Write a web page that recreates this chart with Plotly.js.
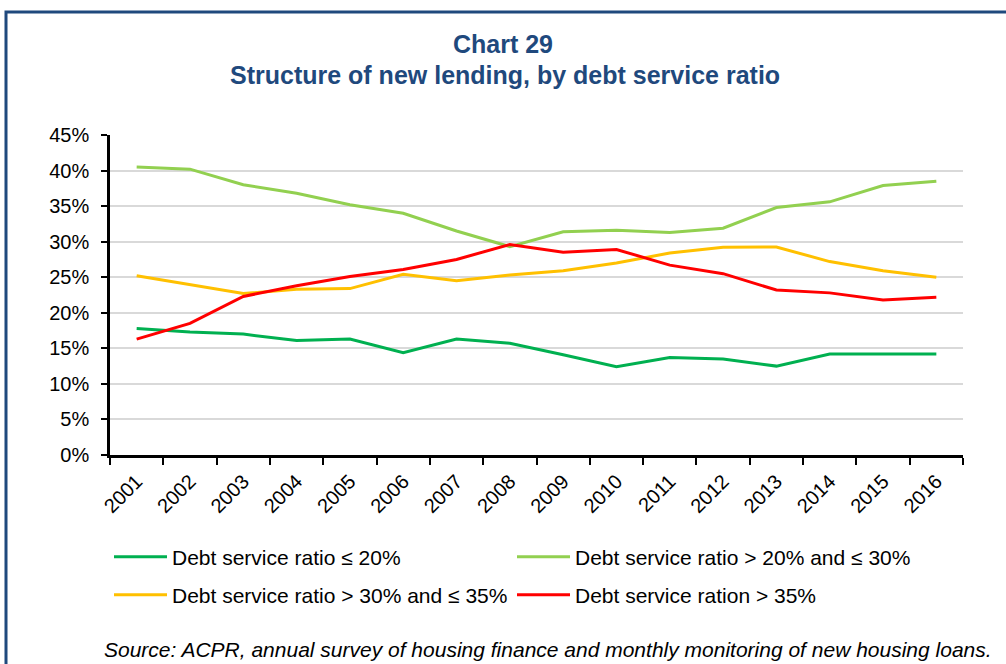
<!DOCTYPE html>
<html>
<head>
<meta charset="utf-8">
<script src="https://cdn.plot.ly/plotly-3.0.1.min.js"></script>
<style>
  html, body { margin: 0; padding: 0; background: #fff; }
  #chart { width: 1006px; height: 664px; }
</style>
</head>
<body>
<div id="chart"></div>
<script>
const years = ["2001","2002","2003","2004","2005","2006","2007","2008","2009","2010","2011","2012","2013","2014","2015","2016"];
const seriesNames = [
  "Debt service ratio ≤ 20%",
  "Debt service ratio > 20% and ≤ 30%",
  "Debt service ratio > 30% and ≤ 35%",
  "Debt service ration > 35%"
];
const dsrUpTo20 = [17.8, 17.3, 17.0, 16.1, 16.3, 14.4, 16.3, 15.7, 14.1, 12.4, 13.7, 13.5, 12.5, 14.2, 14.2, 14.2];
const dsr20to30 = [40.5, 40.2, 38.0, 36.8, 35.2, 34.0, 31.5, 29.3, 31.4, 31.6, 31.3, 31.9, 34.8, 35.6, 37.9, 38.5];
const dsr30to35 = [25.2, 23.9, 22.7, 23.3, 23.4, 25.4, 24.5, 25.3, 25.9, 27.0, 28.4, 29.2, 29.25, 27.2, 25.9, 25.0];
const dsrOver35 = [16.3, 18.5, 22.3, 23.8, 25.1, 26.1, 27.5, 29.6, 28.5, 28.9, 26.7, 25.5, 23.2, 22.8, 21.8, 22.2];
const yTickVals = [0, 5, 10, 15, 20, 25, 30, 35, 40, 45];

const colors = ["#00B050", "#92D050", "#FFC000", "#FF0000"];
const values = [dsrUpTo20, dsr20to30, dsr30to35, dsrOver35];
const legendIds = ["legend", "legend", "legend2", "legend2"];

const FONT = "Liberation Sans, Arial, Helvetica, sans-serif";
const TITLE_COLOR = "#1F497D";

const traces = values.map((v, i) => ({
  type: "scatter",
  mode: "lines",
  x: years,
  y: v,
  name: seriesNames[i],
  legend: legendIds[i],
  line: { color: colors[i], width: 3 },
  hovertemplate: "%{x}: %{y:.1f}%<extra>" + seriesNames[i] + "</extra>"
}));

// plot area in pixels: x 110..963, y 135..455
const L = 110, R = 963, T = 135, B = 455;
const W = R - L, H = B - T;
const px = (p) => (p - L) / W;
const py = (p) => (B - p) / H;

const legendCommon = {
  orientation: "h",
  xanchor: "left",
  yanchor: "middle",
  x: px(109),
  font: { family: FONT, size: 21, color: "#000" },
  bgcolor: "rgba(0,0,0,0)",
  borderwidth: 0,
  itemwidth: 53,
  entrywidth: 335,
  entrywidthmode: "pixels",
  traceorder: "normal",
  itemclick: false,
  itemdoubleclick: false
};

const layout = {
  width: 1006,
  height: 664,
  margin: { l: L, r: 1006 - R, t: T, b: 664 - B, pad: 0 },
  paper_bgcolor: "#fff",
  plot_bgcolor: "#fff",
  font: { family: FONT, size: 20, color: "#000" },
  title: {
    text: "<b>Chart 29</b>",
    font: { family: FONT, size: 25, color: TITLE_COLOR },
    xref: "container", yref: "container",
    x: 503 / 1006, xanchor: "center",
    y: 1 - 44 / 664, yanchor: "middle"
  },
  xaxis: {
    type: "category",
    range: [-0.5, years.length - 0.5],
    showgrid: false,
    showline: true,
    linecolor: "#000",
    linewidth: 2.5,
    ticks: "outside",
    tickson: "boundaries",
    ticklen: 7,
    tickwidth: 2,
    tickcolor: "#000",
    tickangle: -45,
    ticklabelstandoff: 4,
    tickfont: { family: FONT, size: 20, color: "#000" },
    zeroline: false,
    fixedrange: true
  },
  yaxis: {
    range: [0, 45],
    tickmode: "array",
    tickvals: yTickVals,
    ticktext: yTickVals.map(v => v + "%"),
    showgrid: true,
    gridcolor: "#D9D9D9",
    gridwidth: 1.5,
    showline: true,
    linecolor: "#000",
    linewidth: 2.5,
    ticks: "outside",
    ticklen: 6,
    tickwidth: 2,
    tickcolor: "#000",
    ticklabelstandoff: 8,
    tickfont: { family: FONT, size: 20, color: "#000" },
    zeroline: false,
    fixedrange: true
  },
  legend: Object.assign({}, legendCommon, { y: py(557) }),
  legend2: Object.assign({}, legendCommon, { y: py(595) }),
  annotations: [
    {
      text: "<b>Structure of new lending, by debt service ratio</b>",
      xref: "paper", yref: "paper",
      x: px(505), y: py(75),
      xanchor: "center", yanchor: "middle",
      showarrow: false,
      font: { family: FONT, size: 25, color: TITLE_COLOR }
    },
    {
      text: "<i>Source: ACPR, annual survey of housing finance and monthly monitoring of new housing loans.</i>",
      xref: "paper", yref: "paper",
      x: px(102), y: py(649),
      xanchor: "left", yanchor: "middle",
      showarrow: false,
      font: { family: FONT, size: 21, color: "#000" }
    }
  ],
  shapes: [
    {
      type: "rect",
      xref: "paper", yref: "paper",
      x0: px(6), x1: px(1030),
      y0: py(720), y1: py(12),
      line: { color: "#1F497D", width: 3 },
      fillcolor: "rgba(0,0,0,0)",
      layer: "below"
    }
  ],
  showlegend: true,
  hovermode: "closest"
};

Plotly.newPlot("chart", traces, layout, { displayModeBar: false, responsive: false, staticPlot: false });
</script>
</body>
</html>
